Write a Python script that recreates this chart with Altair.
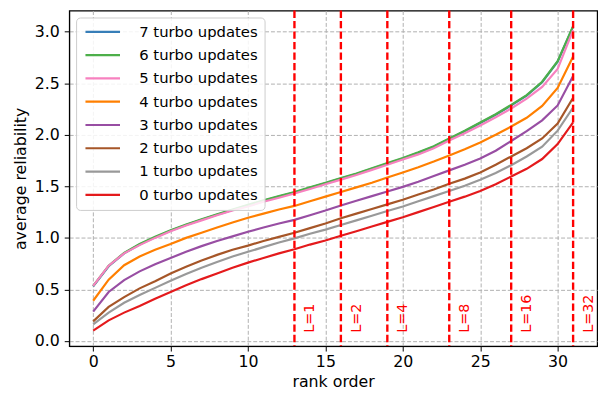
import altair as alt
import pandas as pd

rank = list(range(32))

series_names = [
    "7 turbo updates", "6 turbo updates", "5 turbo updates", "4 turbo updates",
    "3 turbo updates", "2 turbo updates", "1 turbo updates", "0 turbo updates",
]
series_colors = ["#377eb8", "#4daf4a", "#f781bf", "#ff7f00",
                 "#984ea3", "#a65628", "#999999", "#e41a1c"]

turbo7 = [0.53, 0.725, 0.85, 0.935, 1.005, 1.07, 1.125, 1.175, 1.225, 1.27, 1.315, 1.36,
          1.40, 1.44, 1.485, 1.53, 1.575, 1.62, 1.67, 1.72, 1.77, 1.825, 1.885, 1.96,
          2.035, 2.115, 2.195, 2.285, 2.38, 2.51, 2.71, 3.05]
turbo6 = [0.535, 0.73, 0.855, 0.94, 1.01, 1.075, 1.13, 1.18, 1.23, 1.275, 1.32, 1.365,
          1.405, 1.445, 1.49, 1.535, 1.58, 1.625, 1.675, 1.725, 1.775, 1.83, 1.89, 1.965,
          2.04, 2.12, 2.20, 2.29, 2.385, 2.515, 2.715, 3.055]
turbo5 = [0.535, 0.73, 0.85, 0.93, 1.00, 1.065, 1.12, 1.17, 1.22, 1.265, 1.305, 1.35,
          1.39, 1.43, 1.475, 1.52, 1.565, 1.61, 1.66, 1.71, 1.76, 1.81, 1.87, 1.945,
          2.015, 2.09, 2.17, 2.255, 2.35, 2.465, 2.64, 3.015]
turbo4 = [0.39, 0.595, 0.735, 0.82, 0.885, 0.94, 1.00, 1.05, 1.10, 1.15, 1.195, 1.235,
          1.275, 1.31, 1.355, 1.40, 1.445, 1.49, 1.535, 1.585, 1.635, 1.685, 1.74, 1.80,
          1.86, 1.925, 2.00, 2.08, 2.165, 2.28, 2.455, 2.76]
turbo3 = [0.285, 0.475, 0.59, 0.675, 0.745, 0.805, 0.865, 0.92, 0.97, 1.015, 1.06, 1.10,
          1.14, 1.175, 1.22, 1.265, 1.315, 1.36, 1.405, 1.45, 1.495, 1.545, 1.60, 1.655,
          1.71, 1.77, 1.845, 1.94, 2.035, 2.14, 2.285, 2.57]
turbo2 = [0.19, 0.33, 0.425, 0.51, 0.58, 0.655, 0.72, 0.78, 0.835, 0.885, 0.925, 0.97,
          1.01, 1.05, 1.095, 1.14, 1.19, 1.235, 1.28, 1.325, 1.37, 1.42, 1.47, 1.525,
          1.575, 1.635, 1.71, 1.79, 1.87, 1.965, 2.11, 2.36]
turbo1 = [0.16, 0.275, 0.37, 0.445, 0.515, 0.585, 0.65, 0.71, 0.765, 0.82, 0.865, 0.91,
          0.955, 0.995, 1.04, 1.08, 1.125, 1.17, 1.215, 1.26, 1.305, 1.355, 1.405, 1.455,
          1.505, 1.565, 1.63, 1.705, 1.79, 1.885, 2.04, 2.265]
turbo0 = [0.10, 0.20, 0.275, 0.34, 0.41, 0.475, 0.54, 0.60, 0.655, 0.71, 0.76, 0.805,
          0.85, 0.89, 0.935, 0.975, 1.02, 1.065, 1.11, 1.155, 1.20, 1.25, 1.30, 1.35,
          1.40, 1.455, 1.52, 1.595, 1.67, 1.765, 1.91, 2.12]

series_values = [turbo7, turbo6, turbo5, turbo4, turbo3, turbo2, turbo1, turbo0]

L_positions = [13, 16, 19, 23, 27, 31]
L_labels = ["L=1", "L=2", "L=4", "L=8", "L=16", "L=32"]

x_ticks = [0, 5, 10, 15, 20, 25, 30]
y_ticks = [0.0, 0.5, 1.0, 1.5, 2.0, 2.5, 3.0]

rows = []
for name, vals in zip(series_names, series_values):
    for r, v in zip(rank, vals):
        rows.append({"rank": r, "value": v, "series": name})
df = pd.DataFrame(rows)

vdf = pd.DataFrame({"rank": L_positions, "label": L_labels})

FONT = "DejaVu Sans"
xscale = alt.Scale(domain=[-1.55, 32.55], nice=False, zero=False)
yscale = alt.Scale(domain=[-0.05, 3.205], nice=False, zero=False)

x_enc = alt.X("rank:Q", scale=xscale,
              axis=alt.Axis(title="rank order", values=x_ticks, format="d"))
y_enc = alt.Y("value:Q", scale=yscale,
              axis=alt.Axis(title="average reliability", values=y_ticks, format=".1f"))

legend = alt.Legend(
    title=None, orient="top-left", offset=7, padding=7,
    fillColor="rgba(255,255,255,0.85)", strokeColor="#cccccc", cornerRadius=4,
    labelFontSize=15, labelFont=FONT, labelColor="black",
    symbolType="M-1,0H6", symbolSize=100, symbolStrokeWidth=2.2,
    labelOffset=42, rowPadding=7.6,
)
color_enc = alt.Color("series:N",
                      scale=alt.Scale(domain=series_names, range=series_colors),
                      legend=legend)

layers = []
for name in series_names:
    layers.append(
        alt.Chart(df).transform_filter(alt.datum.series == name)
        .mark_line(strokeWidth=2.2)
        .encode(x=x_enc, y=y_enc, color=color_enc)
    )

rules = alt.Chart(vdf).mark_rule(color="#ff0000", strokeDash=[7.4, 3.2], strokeWidth=2.4).encode(
    x=alt.X("rank:Q", scale=xscale)
)
texts = alt.Chart(vdf).mark_text(
    angle=270, align="left", baseline="top", dy=9, color="#ff0000",
    fontSize=14.5, font=FONT
).encode(
    x=alt.X("rank:Q", scale=xscale),
    y=alt.Y(datum=0.08, scale=yscale),
    text="label:N",
)

chart = alt.layer(*layers, rules, texts).properties(
    width=535, height=340,
    autosize=alt.AutoSizeParams(type="none"),
    padding={"left": 62, "top": 0, "right": 8, "bottom": 54},
).configure(font=FONT).configure_view(
    stroke="black", strokeWidth=1.2
).configure_axis(
    grid=True, gridColor="#b0b0b0", gridDash=[4, 2], gridWidth=1,
    domainColor="black", tickColor="black", tickSize=5, labelColor="black",
    labelFontSize=16, titleFontSize=16, labelFont=FONT, titleFont=FONT,
    titleFontWeight="normal", titleColor="black",
).configure_axisX(
    labelPadding=3, titlePadding=4
).configure_axisY(
    labelPadding=5, titlePadding=6
)

chart.save("out.html", embed_options={"renderer": "svg", "actions": False})
